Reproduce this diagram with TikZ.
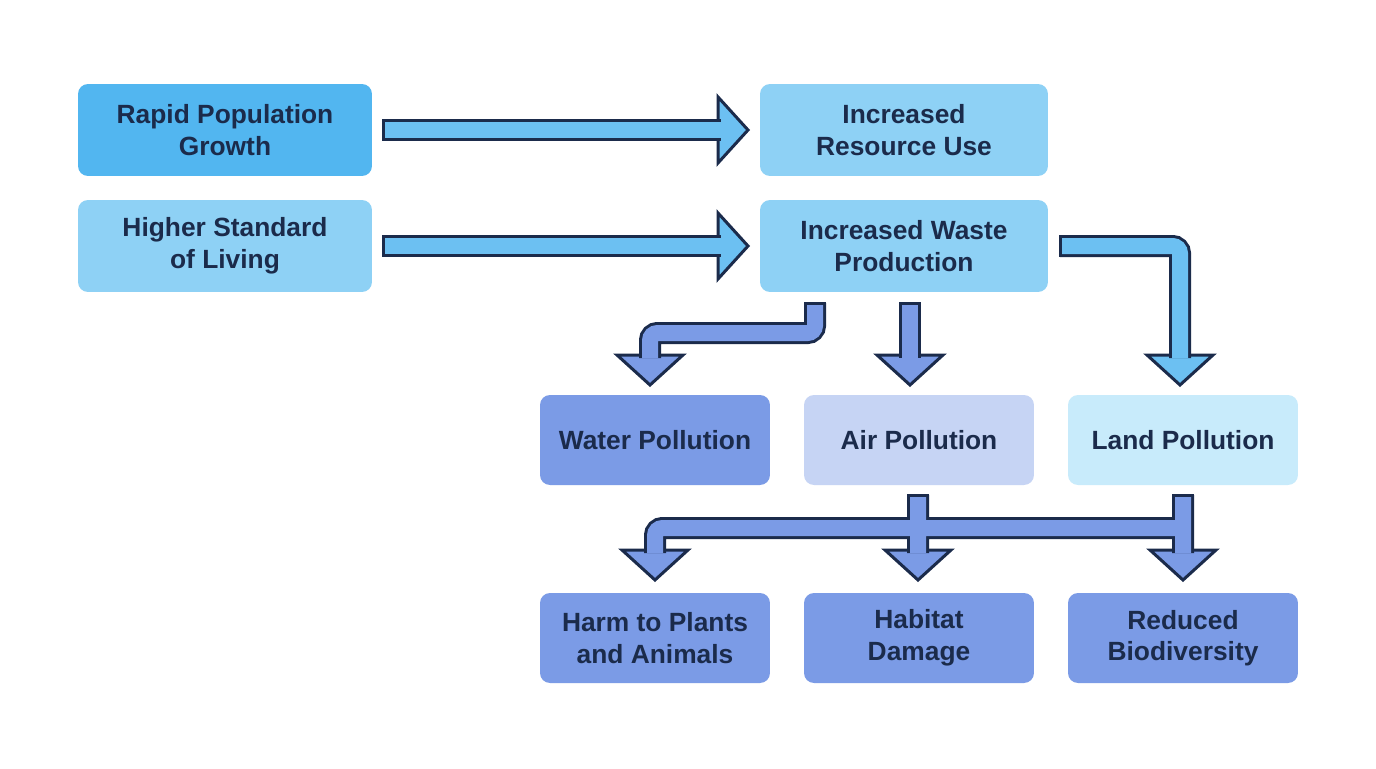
\documentclass[tikz,border=0pt]{standalone}
\usepackage{fontspec}
\setmainfont{Liberation Sans}
\usetikzlibrary{positioning}
\definecolor{deep}{HTML}{52B6F0}
\definecolor{sky}{HTML}{8ED1F5}
\definecolor{flow}{HTML}{6CC0F2}
\definecolor{violet}{HTML}{7B9BE6}
\definecolor{haze}{HTML}{C6D4F4}
\definecolor{pale}{HTML}{C8EBFB}
\definecolor{ink}{HTML}{1B2B4B}
\tikzset{
    box/.style = {rounded corners=0.2cm, minimum width=4.6cm, minimum height=1.8cm,
        align=center, text=ink, font=\fontsize{15}{18}\selectfont\bfseries},
    shaft/.style = {draw=ink, line width=0.06cm, double distance=0.32cm, line join=miter, rounded corners=0.15cm},
    head/.style = {draw=ink, line width=0.06cm, line join=miter}
}
\newcommand{\headright}[2]{\filldraw[head,fill=#2] (#1) ++(-30,-33) -- ++(30,33) -- ++(-30,33) -- cycle;}
\newcommand{\headdown}[2]{\filldraw[head,fill=#2] (#1) ++(-33,-30) -- ++(33,30) -- ++(33,-30) -- cycle;}
\newcommand{\capv}[1]{\draw[head] (#1) ++(0,-11) -- ++(0,22);}
\newcommand{\caph}[1]{\draw[head] (#1) ++(-11,0) -- ++(22,0);}
\begin{document}
\begin{tikzpicture}[x=0.02cm, y=-0.02cm]
    \fill[white] (0,0) rectangle (1376,768);
    \useasboundingbox (0,0) rectangle (1376,768);

    % causes
    \node[box, fill=deep, minimum width=5.88cm, minimum height=1.84cm] (rapid) at (225,130) {Rapid Population\\Growth};
    \node[box, fill=sky, minimum width=5.88cm, minimum height=1.84cm] (living) at (225,246) {Higher Standard\\of Living};

    % effects
    \node[box, fill=sky, minimum width=5.76cm, minimum height=1.84cm] (resource) at (904,130) {Increased\\Resource Use};
    \node[box, fill=sky, minimum width=5.76cm, minimum height=1.84cm] (waste) at (904,246) {Increased Waste\\Production};

    % pollution
    \node[box, fill=violet] (water) at (655,440) {Water Pollution};
    \node[box, fill=haze] (air) at (919,440) {Air Pollution};
    \node[box, fill=pale] (land) at (1183,440) {Land Pollution};

    % consequences
    \node[box, fill=violet] (harm) at (655,638) {Harm to Plants\\and Animals};
    \node[box, fill=violet] (habitat) at (919,638) {Habitat\\Damage};
    \node[box, fill=violet] (biodiv) at (1183,638) {Reduced\\Biodiversity};

    % arrow tips
    \coordinate (t1) at (748,130);
    \coordinate (t2) at (748,246);
    \coordinate (t3) at (650,385);
    \coordinate (t4) at (910,385);
    \coordinate (t5) at (1180,385);
    \coordinate (t6) at (655,580);
    \coordinate (t7) at (918,580);
    \coordinate (t8) at (1183,580);

    % top arrows
    \headright{t1}{flow}
    \headright{t2}{flow}
    \draw[shaft, double=flow] (383,130) -- (721,130);
    \draw[shaft, double=flow] (383,246) -- (721,246);
    \capv{383,130}
    \capv{383,246}

    % waste arrows
    \headdown{t3}{violet}
    \headdown{t4}{violet}
    \headdown{t5}{flow}
    \draw[shaft, double=violet] (815,303) -- (815,333) -- (650,333) -- (650,358);
    \draw[shaft, double=violet] (910,303) -- (910,358);
    \draw[shaft, double=flow] (1060,246) -- (1180,246) -- (1180,358);
    \caph{815,303}
    \caph{910,303}
    \capv{1060,246}

    % pollution arrows
    \headdown{t6}{violet}
    \headdown{t7}{violet}
    \headdown{t8}{violet}
    \draw[shaft, double=violet] (918,495) -- (918,553)
        (1183,495) -- (1183,553)
        (655,553) -- (655,528) -- (1183,528);
    \caph{918,495}
    \caph{1183,495}
\end{tikzpicture}
\end{document}
